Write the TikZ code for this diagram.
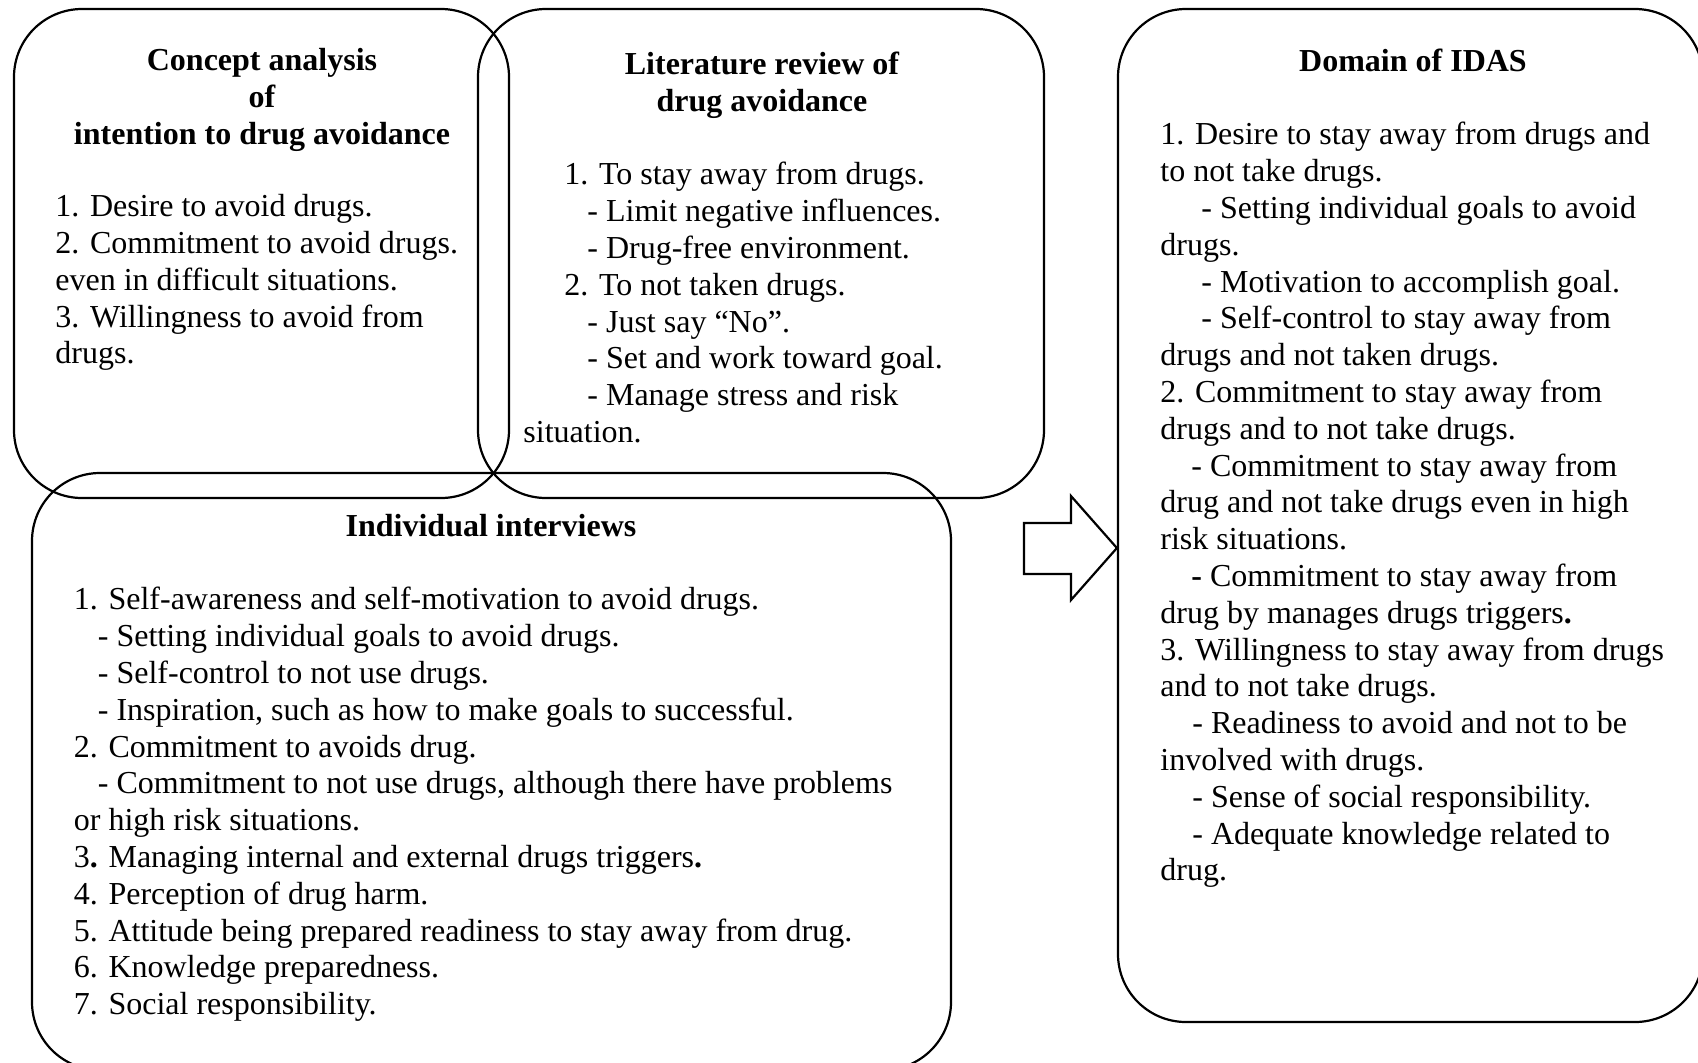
\documentclass[tikz,border=0pt]{standalone}
\usepackage{fontspec}
\setmainfont{Liberation Serif}

\begin{document}
\begin{tikzpicture}[x=0.5pt, y=-0.5pt]

% definitions
\tikzstyle{block} = [rectangle, rounded corners=34pt, draw=black, line width=1.1pt, inner sep=0pt]

\tikzstyle{title} = [align=center, inner sep=0pt, font=\fontsize{16}{18.4}\selectfont\bfseries]

\tikzstyle{body} = [align=left, anchor=north west, inner sep=0pt, font=\fontsize{16}{18.4}\selectfont]

\tikzstyle{bigarrow} = [draw=black, line width=1.1pt, line join=miter]

\useasboundingbox (0,0) rectangle (1698,1062);
\clip (0,0) rectangle (1698,1062);

% the graph
\node (box1) [block, minimum width=247.5pt, minimum height=244.5pt] at (261.5,253.5) {};

\node (box2) [block, minimum width=283pt, minimum height=244.5pt] at (761,253.5) {};

\node (box3) [block, minimum width=459.5pt, minimum height=298.5pt] at (491.5,771.5) {};

\node (box4) [block, minimum width=292.5pt, minimum height=506.5pt] at (1410.5,515.5) {};

\node (title1) [title] at (262,100) {Concept analysis\\ of\\ intention to drug avoidance};

\node (title2) [title] at (762,85) {Literature review of\\ drug avoidance};

\node (title3) [title] at (491,526) {Individual interviews};

\node (title4) [title] at (1413,60) {Domain of IDAS};

\node (text1) [body] at (55,194) {1. Desire to avoid drugs.\\
2. Commitment to avoid drugs.\\
even in difficult situations.\\
3. Willingness to avoid from\\
drugs.};

\node (text2) [body] at (523,162) {\hspace*{20.5pt}1. To stay away from drugs.\\
\hspace*{32pt}- Limit negative influences.\\
\hspace*{32pt}- Drug-free environment.\\
\hspace*{20.5pt}2. To not taken drugs.\\
\hspace*{32pt}- Just say “No”.\\
\hspace*{32pt}- Set and work toward goal.\\
\hspace*{32pt}- Manage stress and risk\\
situation.};

\node (text3) [body] at (73.5,587) {1. Self-awareness and self-motivation to avoid drugs.\\
\hspace*{12pt}- Setting individual goals to avoid drugs.\\
\hspace*{12pt}- Self-control to not use drugs.\\
\hspace*{12pt}- Inspiration, such as how to make goals to successful.\\
2. Commitment to avoids drug.\\
\hspace*{12pt}- Commitment to not use drugs, although there have problems\\
or high risk situations.\\
3\textbf{.} Managing internal and external drugs triggers\textbf{.}\\
4. Perception of drug harm.\\
5. Attitude being prepared readiness to stay away from drug.\\
6. Knowledge preparedness.\\
7. Social responsibility.};

\node (text4) [body] at (1160,122) {1. Desire to stay away from drugs and\\
to not take drugs.\\
\hspace*{20.5pt}- Setting individual goals to avoid\\
drugs.\\
\hspace*{20.5pt}- Motivation to accomplish goal.\\
\hspace*{20.5pt}- Self-control to stay away from\\
drugs and not taken drugs.\\
2. Commitment to stay away from\\
drugs and to not take drugs.\\
\hspace*{15.5pt}- Commitment to stay away from\\
drug and not take drugs even in high\\
risk situations.\\
\hspace*{15.5pt}\textbf{-} Commitment to stay away from\\
drug by manages drugs triggers\textbf{.}\\
3. Willingness to stay away from drugs\\
and to not take drugs.\\
\hspace*{16pt}- Readiness to avoid and not to be\\
involved with drugs.\\
\hspace*{16pt}- Sense of social responsibility.\\
\hspace*{16pt}- Adequate knowledge related to\\
drug.};

\draw [bigarrow] (1024,523) -| (1071,496) -- (box4.west |- 0,548) -- (1071,600) |- (1024,574) -- cycle;

\end{tikzpicture}
\end{document}
